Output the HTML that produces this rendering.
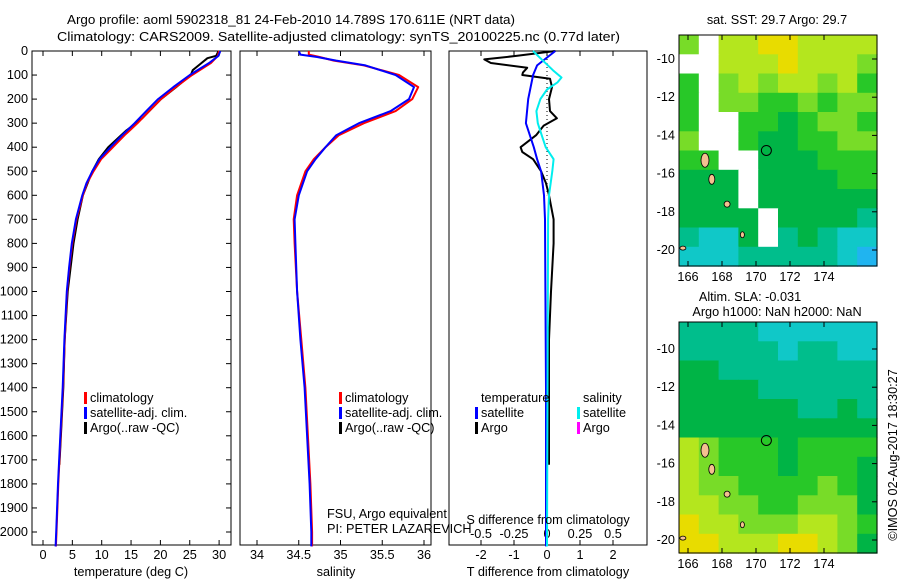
<!DOCTYPE html>
<html><head><meta charset="utf-8"><style>
body{margin:0;background:#fff;width:900px;height:580px;overflow:hidden}
svg text{font-family:"Liberation Sans",sans-serif;font-size:12.7px;fill:#000}
</style></head><body>
<svg id="c" width="900" height="580" xmlns="http://www.w3.org/2000/svg">
<text x="67" y="24" font-size="14.5" textLength="448" lengthAdjust="spacingAndGlyphs">Argo profile: aoml 5902318_81 24-Feb-2010 14.789S 170.611E (NRT data)</text>
<text x="57" y="41" font-size="14.5" textLength="563" lengthAdjust="spacingAndGlyphs">Climatology: CARS2009. Satellite-adjusted climatology: synTS_20100225.nc (0.77d later)</text>
</svg>
<script>
// ---- data ----
const depthTicks=[0,100,200,300,400,500,600,700,800,900,1000,1100,1200,1300,1400,1500,1600,1700,1800,1900,2000];
const tempTicks=[0,5,10,15,20,25,30];
const salTicks=[34,34.5,35,35.5,36];
const tdiffTicks=[-2,-1,0,1,2];
const sdiffTicks=[-0.5,-0.25,0,0.25,0.5];
const sdiffTickLabels=["-0.5","-0.25","0","0.25","0.5"];

const climDepth=[0,20,50,100,150,200,250,300,350,400,450,500,550,600,700,800,900,1000,1200,1400,1600,1800,2000,2060];
const climTemp=[30,29.8,28.6,25.4,22.6,20.1,18.1,16.1,13.9,11.9,9.9,8.6,7.5,6.8,5.7,5.0,4.5,4.1,3.7,3.4,3.0,2.6,2.3,2.2];
const satTemp=[30.2,29.9,28.3,25.0,22.2,19.6,17.6,15.6,13.5,11.5,9.6,8.4,7.4,6.7,5.6,4.9,4.45,4.05,3.65,3.35,2.95,2.55,2.25,2.15];
const argoDepth=[0,20,30,60,80,100,150,200,280,310,330,400,450,500,600,700,800,1000,1200,1400,1600,1720];
const argoTemp=[29.9,29.5,28.0,26.5,25.5,25.2,22.7,20.1,16.9,15.3,14.2,11.1,9.5,8.4,6.8,5.9,5.2,4.2,3.7,3.45,3.05,2.8];

const salDepth=[0,15,25,40,60,100,150,200,250,300,350,400,450,500,600,700,800,1000,1200,1400,1600,1800,2000,2060];
const climSal=[34.62,34.62,34.75,34.92,35.28,35.7,35.93,35.86,35.66,35.28,34.98,34.82,34.68,34.58,34.48,34.44,34.45,34.48,34.53,34.58,34.61,34.64,34.66,34.66];
const satSal=[34.5,34.52,34.72,34.95,35.3,35.66,35.88,35.82,35.6,35.22,34.95,34.82,34.7,34.6,34.5,34.45,34.46,34.48,34.52,34.57,34.6,34.63,34.65,34.65];

const tdDepth=[0,60,100,200,300,400,450,500,600,700,1000,1400,2060];
const satTdiff=[0.25,-0.3,-0.42,-0.57,-0.64,-0.4,-0.3,-0.18,-0.09,-0.06,-0.05,-0.03,-0.03];
const argoTdDepth=[0,20,35,50,70,90,100,115,150,200,250,280,310,350,400,420,450,500,550,600,700,800,1000,1200,1400,1720];
const argoTdiff=[0.25,-0.9,-1.9,-1.7,-0.6,-0.73,-0.75,0.09,0.15,0.06,0.09,0.3,-0.1,-0.33,-0.8,-0.75,-0.42,-0.18,-0.03,0.06,0.2,0.2,0.12,0.06,0.06,0.06];
const sdDepth=[0,30,80,110,130,160,200,250,300,350,400,450,500,600,700,2060];
const satSdiff=[-0.106,-0.05,0.045,0.11,0.08,0,-0.05,-0.08,-0.07,-0.04,-0.01,0.05,0.04,0.015,0.008,0];

const lonTicks=[166,168,170,172,174];
const latTicks=[-10,-12,-14,-16,-18,-20];
const argoLon=170.611, argoLat=-14.789;
const sstGrid=["LWYYyyYYYY","WWYYYyYYYL","GWLYLYYLYG","GWLLGGLGLL","GWWGGDGLLG","LWWGDDGGLL","GGWWDDDGGG","DDDWDDDDGG","DDDWDDDDDD","DDDDWDDDDT","TCCDWTDTCC","CCCTTTTTCB"];
const slaGrid=["TTTTCCCCCC","TTTTTCTTCC","DDTTTTTTTT","DDDDTTTTTT","DDDDDDTTDT","DDDDDDDDDD","YLGGGDGGGG","YLGGGDGGGD","YLLGGGGLGD","YYLLGGLLLD","yYYLLLYYLG","yyYYYyyYLD"];

// ---- helpers ----
const svg=document.getElementById('c');const NS='http://www.w3.org/2000/svg';
function mk(tag,a,txt){const e=document.createElementNS(NS,tag);for(const k in a)e.setAttribute(k,a[k]);if(txt!==undefined)e.textContent=txt;svg.appendChild(e);return e;}
const Y0=51,YP=24.05; const ys=d=>Y0+d*YP/100; const PB=545;
const xT=v=>43+v*5.87, xS=v=>257+(v-34)*83.5, xTD=v=>547+v*33, xSD=v=>547+v*132;
function line(xs,ds,fx,col,name,w){const p=ds.map((d,i)=>(i?'L':'M')+fx(xs[i]).toFixed(1)+','+ys(d).toFixed(1)).join('');const e=mk('path',{d:p,fill:'none',stroke:col,'stroke-width':w||2,'stroke-linejoin':'round'});
}
function frame(x0,x1,name){const e=mk('rect',{x:x0,y:Y0,width:x1-x0,height:PB-Y0,fill:'none',stroke:'#000','stroke-width':1});
}
function xaxis(ticks,fx,labels,ly,name){ticks.forEach((t,i)=>{const x=fx(t);mk('line',{x1:x,x2:x,y1:PB,y2:PB-5,stroke:'#000'});mk('line',{x1:x,x2:x,y1:Y0,y2:Y0+5,stroke:'#000'});
const e=mk('text',{x:x,y:ly,'text-anchor':'middle'},labels?labels[i]:String(t));});}

// Panel 1 temperature
frame(32,231,'temperature-panel');
depthTicks.forEach(d=>{const y=ys(d);mk('line',{x1:32,x2:37,y1:y,y2:y,stroke:'#000'});mk('line',{x1:226,x2:231,y1:y,y2:y,stroke:'#000'});
const e=mk('text',{x:28,y:y+4,'text-anchor':'end'},String(d));});
xaxis(tempTicks,xT,null,559,'temperature');
line(argoTemp,argoDepth,xT,'#000','argo-temperature-line');
line(climTemp,climDepth,xT,'#f00','climatology-temperature-line');
line(satTemp,climDepth,xT,'#00f','satellite-temperature-line');
// Panel 2 salinity
frame(240,431,'salinity-panel');
xaxis(salTicks,xS,null,559,'salinity');
line(climSal,salDepth,xS,'#f00','climatology-salinity-line');
line(satSal,salDepth,xS,'#00f','satellite-salinity-line');
// Panel 3 diff
frame(449,647,'difference-panel');
xaxis(tdiffTicks,xTD,null,559,'t-difference');
sdiffTicks.forEach((t,i)=>{const e=mk('text',{x:xSD(t),y:538,'text-anchor':'middle'},sdiffTickLabels[i]);});
mk('line',{x1:547,x2:547,y1:Y0,y2:ys(600),stroke:'#000','stroke-dasharray':'1,3'});
line(argoTdiff,argoTdDepth,xTD,'#000','argo-t-difference-line');
line(satTdiff,tdDepth,xTD,'#00f','satellite-t-difference-line');
line(satSdiff,sdDepth,xSD,'#0ee','satellite-s-difference-line');

// axis titles & text
[[131,576,'temperature (deg C)','temperature-axis-title'],[336,576,'salinity','salinity-axis-title'],[548,576,'T difference from climatology','t-difference-axis-title'],[548,524,'S difference from climatology','s-difference-axis-title']].forEach(a=>{const e=mk('text',{x:a[0],y:a[1],'text-anchor':'middle'},a[2]);});
[[327,518,'FSU, Argo equivalent'],[327,533,'PI: PETER LAZAREVICH']].forEach(a=>{const e=mk('text',{x:a[0],y:a[1]},a[2]);});
// legends
function leg(x,y,col,txt,name){if(col)mk('rect',{x:x-6,y:y-10,width:3,height:12,fill:col});const e=mk('text',{x:x,y:y},txt);}
[[90,'temp'],[345,'sal']].forEach(p=>{leg(p[0],402,'#f00','climatology','legend-climatology-'+p[1]);leg(p[0],417,'#00f','satellite-adj. clim.','legend-satellite-'+p[1]);leg(p[0],432,'#000','Argo(..raw -QC)','legend-argo-'+p[1]);});
leg(481,402,null,'temperature','legend-temperature-header');leg(481,417,'#00f','satellite','legend-t-satellite');leg(481,432,'#000','Argo','legend-t-argo');
leg(583,402,null,'salinity','legend-salinity-header');leg(583,417,'#0ee','satellite','legend-s-satellite');leg(583,432,'#f0f','Argo','legend-s-argo');

// maps
const pal={y:'#e8dc00',Y:'#b4e61e',L:'#78dc28',G:'#28c828',D:'#00b446',T:'#00be8c',C:'#10c8c8',B:'#20b4f0',W:'#ffffff'};
function map(y0,grid,name,latY){const x0=679,w=198,h=231,cw=w/10,ch=h/12;
grid.forEach((row,r)=>{for(let c=0;c<10;c++){mk('rect',{x:(x0+c*cw).toFixed(1),y:(y0+r*ch).toFixed(1),width:(cw+0.6).toFixed(1),height:(ch+0.6).toFixed(1),fill:pal[row[c]]});}});
const fx=lon=>688+(lon-166)*17, fy=lat=>latY+(-10-lat)*19.1;
[[167,-15.3,4,7],[167.4,-16.3,3,5],[168.3,-17.6,3,3],[169.2,-19.2,2,3],[165.7,-19.9,3,2]].forEach(p=>{mk('ellipse',{cx:fx(p[0]),cy:fy(p[1]),rx:p[2],ry:p[3],fill:'#f4c090',stroke:'#000','stroke-width':0.8});});
const fr=mk('rect',{x:x0,y:y0,width:w,height:h,fill:'none',stroke:'#000'});
const ci=mk('circle',{cx:fx(argoLon),cy:fy(argoLat),r:5,fill:'none',stroke:'#000'});
lonTicks.forEach(l=>{const x=fx(l);mk('line',{x1:x,x2:x,y1:y0,y2:y0+5,stroke:'#000'});mk('line',{x1:x,x2:x,y1:y0+h,y2:y0+h-5,stroke:'#000'});const e=mk('text',{x:x,y:y0+h+15,'text-anchor':'middle'},String(l));});
latTicks.forEach(l=>{const y=fy(l);mk('line',{x1:x0+w-5,x2:x0+w,y1:y,y2:y,stroke:'#000'});const e=mk('text',{x:675,y:y+4,'text-anchor':'end'},String(l));});}
map(35,sstGrid,'sst-map',59);
map(322,slaGrid,'sla-map',349);
[[777,24,'sat. SST: 29.7  Argo: 29.7','sst-map-title'],[750,301,'Altim. SLA: -0.031','sla-map-title'],[777,316,'Argo h1000: NaN h2000: NaN','sla-map-subtitle']].forEach(a=>{const e=mk('text',{x:a[0],y:a[1],'text-anchor':'middle'},a[2]);});
const cr=mk('text',{x:0,y:0,'text-anchor':'middle',transform:'translate(897,455) rotate(-90)'},'©IMOS 02-Aug-2017 18:30:27');

</script>
</body></html>
